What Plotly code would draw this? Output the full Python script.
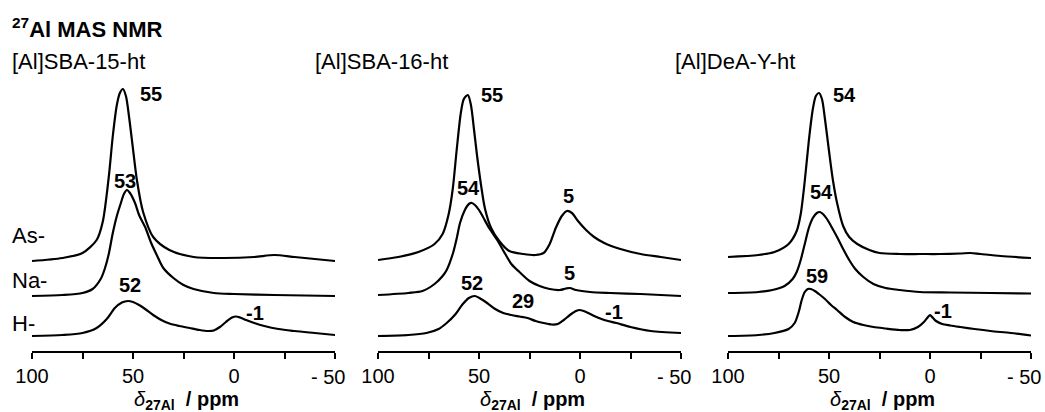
import plotly.graph_objects as go

# ---------------- data (chemical shift in ppm, intensity in arbitrary units) ----------------
SAMPLES = ["[Al]SBA-15-ht", "[Al]SBA-16-ht", "[Al]DeA-Y-ht"]
ROWS = ["As-", "Na-", "H-"]

# [Al]SBA-15-ht
sba15_as_ppm = [100, 85, 75, 68, 65, 62, 60, 58, 56.5, 55, 53.5, 52, 50, 48, 45, 40, 32, 20, 5, -10, -20, -30, -40, -50]
sba15_as_int = [0, 3, 8, 21, 39, 84, 125, 156, 168, 172, 165, 145, 112, 80, 49, 24, 11, 4, 3, 4, 6, 4, 2, 0]
sba15_na_ppm = [100, 85, 75, 70, 66, 64, 62, 60, 58, 56, 54.5, 53, 51.5, 49, 47, 44, 41, 38, 35, 30, 25, 20, 10, 0, -20, -50]
sba15_na_int = [0, 1, 3, 7, 17, 27, 42, 63, 80, 93, 102, 106, 103, 93, 81, 69, 53, 40, 28, 18, 11, 7, 3, 2, 1, 0]
sba15_h_ppm = [100, 85, 75, 68, 63, 59, 55.5, 52.5, 50, 47, 44, 40, 36, 32, 27, 22, 17, 13, 10, 7, 4, 1, -1, -3, -6, -10, -15, -22, -30, -40, -50]
sba15_h_int = [0, 1, 3, 8, 17, 28, 33.5, 35, 34, 31, 27, 21, 16, 12.5, 10, 8, 6, 5, 5.5, 9, 14, 18.5, 19.5, 18.5, 16, 13, 10, 7, 5, 3, 1]

# [Al]SBA-16-ht
sba16_as_ppm = [100, 90, 80, 72, 68, 65, 63, 61, 59, 57.5, 55.5, 54, 52.5, 51, 49, 47, 44, 40, 35, 28, 22, 18, 15, 12, 9, 6.5, 4, 1, -3, -7, -12, -20, -30, -40, -50]
sba16_as_int = [1, 4, 9, 17, 27, 47, 72, 112, 148, 162, 166, 156, 132, 106, 76, 52, 33, 20, 10, 7, 6, 8, 17, 33, 45, 50, 48, 40, 31, 24, 18, 12, 7, 4, 1]
sba16_na_ppm = [100, 85, 78, 72, 68, 66, 63, 61, 59.4, 57, 55, 53.5, 52, 50, 48, 45, 41, 37, 34, 30, 25, 20, 15, 10, 7, 5, 2, -5, -15, -30, -50]
sba16_na_int = [1, 3, 5, 12, 20, 26, 42, 58, 73, 86, 92, 93, 91, 86, 79, 68, 56, 42, 32, 24, 15, 10, 7, 6, 7.5, 8, 6, 4, 3, 2, 0]
sba16_h_ppm = [100, 85, 76, 70, 66, 62, 58, 55, 52, 49, 46, 42, 38, 34, 30, 26, 22, 18, 14, 11, 8, 5, 2, 0, -3, -7, -12, -18, -25, -35, -50]
sba16_h_int = [0, 1, 3, 7, 13, 21, 32, 38, 40, 37, 33, 27, 23, 21, 19.5, 18, 15, 13, 11.5, 12, 16, 21, 25, 26, 24, 20, 16, 13, 9, 5, 3]

# [Al]DeA-Y-ht
deay_as_ppm = [100, 85, 77, 70, 66, 64, 62, 60, 58, 56.5, 55, 53.5, 52, 50, 48, 46, 43, 40, 36, 30, 25, 15, 5, -5, -15, -20, -25, -35, -50]
deay_as_int = [4, 6, 9, 17, 30, 47, 80, 120, 152, 165, 168, 162, 142, 110, 80, 58, 35, 24, 17, 11, 8, 7, 7, 7, 7.5, 8, 7, 5, 3]
deay_na_ppm = [100, 85, 78, 72, 68, 66, 64, 62, 60, 58, 56, 54.5, 53, 51, 49, 46, 43, 40, 37, 33, 28, 22, 15, 5, -10, -30, -50]
deay_na_int = [3, 4, 6, 10, 17, 24, 36, 52, 68, 78, 83, 84, 82, 77, 70, 59, 47, 36, 27, 19, 12, 8, 6, 4, 3.5, 3, 2.5]
deay_h_ppm = [100, 85, 77, 70, 67, 65, 63.5, 62, 60.5, 59, 57, 55, 52, 49, 46, 42, 38, 33, 28, 22, 15, 10, 6, 3, 1, 0, -1.5, -3, -6, -10, -15, -22, -30, -40, -50]
deay_h_int = [0, 1, 3, 7, 13, 24, 36, 44, 47, 47, 45, 42, 37, 31, 26, 19, 14, 11, 9, 7.5, 6, 6, 9, 14, 19, 21, 18, 15, 12, 10.5, 9, 7, 5, 3, 0.5]

# peak-position labels
peak_panel = [0, 0, 0, 0, 1, 1, 1, 1, 1, 1, 1, 2, 2, 2, 2]
peak_text = ["55", "53", "52", "-1", "55", "54", "5", "5", "52", "29", "-1", "54", "54", "59", "-1"]

tick_vals = [100, 50, 0]
tick_text = ["100", "50", "0"]
minor_tick_vals = [75, 25, -25, -50]
end_tick_val = -50
end_tick_text = "- 50"

# ---------------- layout helpers (pixel geometry) ----------------
W, H = 1045, 412
AXIS_Y = 351      # pixel row of the x axis line
TOP_Y = 80        # pixel row of the top of the plotting area
PANEL_PX = [(32, 335), (378, 681), (728, 1031)]
OFFSET = {"As-": 90, "Na-": 55, "H-": 15}   # vertical stacking offsets

FONT = "Liberation Sans, Arial, Helvetica, sans-serif"

spectra = [
    [(sba15_as_ppm, sba15_as_int), (sba15_na_ppm, sba15_na_int), (sba15_h_ppm, sba15_h_int)],
    [(sba16_as_ppm, sba16_as_int), (sba16_na_ppm, sba16_na_int), (sba16_h_ppm, sba16_h_int)],
    [(deay_as_ppm, deay_as_int), (deay_na_ppm, deay_na_int), (deay_h_ppm, deay_h_int)],
]

fig = go.Figure()
for p, panel in enumerate(spectra):
    xa = "x" if p == 0 else f"x{p+1}"
    for r, (xs, ys) in enumerate(panel):
        off = OFFSET[ROWS[r]]
        fig.add_trace(go.Scatter(
            x=xs, y=[v + off for v in ys], xaxis=xa, yaxis="y",
            mode="lines", line=dict(color="black", width=2.2, shape="spline", smoothing=0.8),
            showlegend=False, hoverinfo="skip", cliponaxis=False,
        ))

def xpaper(px):
    return px / W

def ypaper(py):
    return (AXIS_Y - py) / (AXIS_Y - TOP_Y)

axis_common = dict(
    range=[100, -50], tickmode="array", tickvals=tick_vals, ticktext=tick_text,
    ticks="outside", ticklen=6, tickwidth=2, tickcolor="black",
    minor=dict(tickmode="array", tickvals=minor_tick_vals, ticks="outside", ticklen=6,
               tickwidth=2, tickcolor="black", showgrid=False),
    showline=True, linecolor="black", linewidth=2, showgrid=False, zeroline=False,
    tickfont=dict(family=FONT, size=20, color="black"), anchor="y", automargin=False,
    ticklabelstandoff=0, ticklabeloverflow="allow",
)
layout = dict(
    width=W, height=H, margin=dict(l=0, r=0, t=TOP_Y, b=H - AXIS_Y, autoexpand=False),
    paper_bgcolor="white", plot_bgcolor="white",
    yaxis=dict(range=[0, AXIS_Y - TOP_Y], visible=False, domain=[0, 1], automargin=False),
)
for p, (a, b) in enumerate(PANEL_PX):
    key = "xaxis" if p == 0 else f"xaxis{p+1}"
    layout[key] = dict(axis_common, domain=[xpaper(a), xpaper(b)])
fig.update_layout(**layout)

# end tick label "- 50": the "50" sits centred on the tick, the "- " hangs to the left
for a, b in PANEL_PX:
    tick_px = a + (100 - end_tick_val) / 150 * (b - a)
    fig.add_annotation(x=xpaper(tick_px + 11.5), y=ypaper(376.5), xref="paper", yref="paper",
                       text=end_tick_text, showarrow=False,
                       font=dict(family=FONT, size=20, color="black"), xanchor="right", yanchor="middle")

# peak label positions (ppm, height) -- layout only
peak_pos = [(41.1, 257), (54.0, 170), (51.5, 66), (-10.4, 38),
            (43.6, 256.5), (55.2, 163.5), (5.7, 155.5), (5.4, 78.5), (53.6, 68.5), (28.2, 50.5), (-16.6, 39.5),
            (42.1, 256.5), (53.6, 159.5), (56.1, 75), (-6.4, 40.5)]
for pnl, txt, (px_, py_) in zip(peak_panel, peak_text, peak_pos):
    xa = "x" if pnl == 0 else f"x{pnl+1}"
    fig.add_annotation(x=px_, y=py_, xref=xa, yref="y", text=f"<b>{txt}</b>", showarrow=False,
                       font=dict(family=FONT, size=20, color="black"), xanchor="center", yanchor="middle")

# main title
fig.add_annotation(x=xpaper(10), y=ypaper(28), xref="paper", yref="paper",
                   text="<b><sup>27</sup>Al MAS NMR</b>", showarrow=False,
                   font=dict(family=FONT, size=22, color="black"), xanchor="left", yanchor="middle")
# panel titles
for name, px_ in zip(SAMPLES, [10, 313, 673]):
    fig.add_annotation(x=xpaper(px_), y=ypaper(61), xref="paper", yref="paper", text=name,
                       showarrow=False, font=dict(family=FONT, size=22, color="black"),
                       xanchor="left", yanchor="middle")
# row labels
for name, py_ in zip(ROWS, [235, 280, 323]):
    fig.add_annotation(x=xpaper(10), y=ypaper(py_), xref="paper", yref="paper", text=name,
                       showarrow=False, font=dict(family=FONT, size=22, color="black"),
                       xanchor="left", yanchor="middle")
# axis titles
for a, b in PANEL_PX:
    fig.add_annotation(x=xpaper((a + b) / 2 + 3), y=ypaper(400), xref="paper", yref="paper",
                       text="<i>δ</i><sub><b>27Al</b></sub><b>  / ppm</b>", showarrow=False,
                       font=dict(family=FONT, size=20, color="black"), xanchor="center", yanchor="middle")

fig.write_html("out.html")
